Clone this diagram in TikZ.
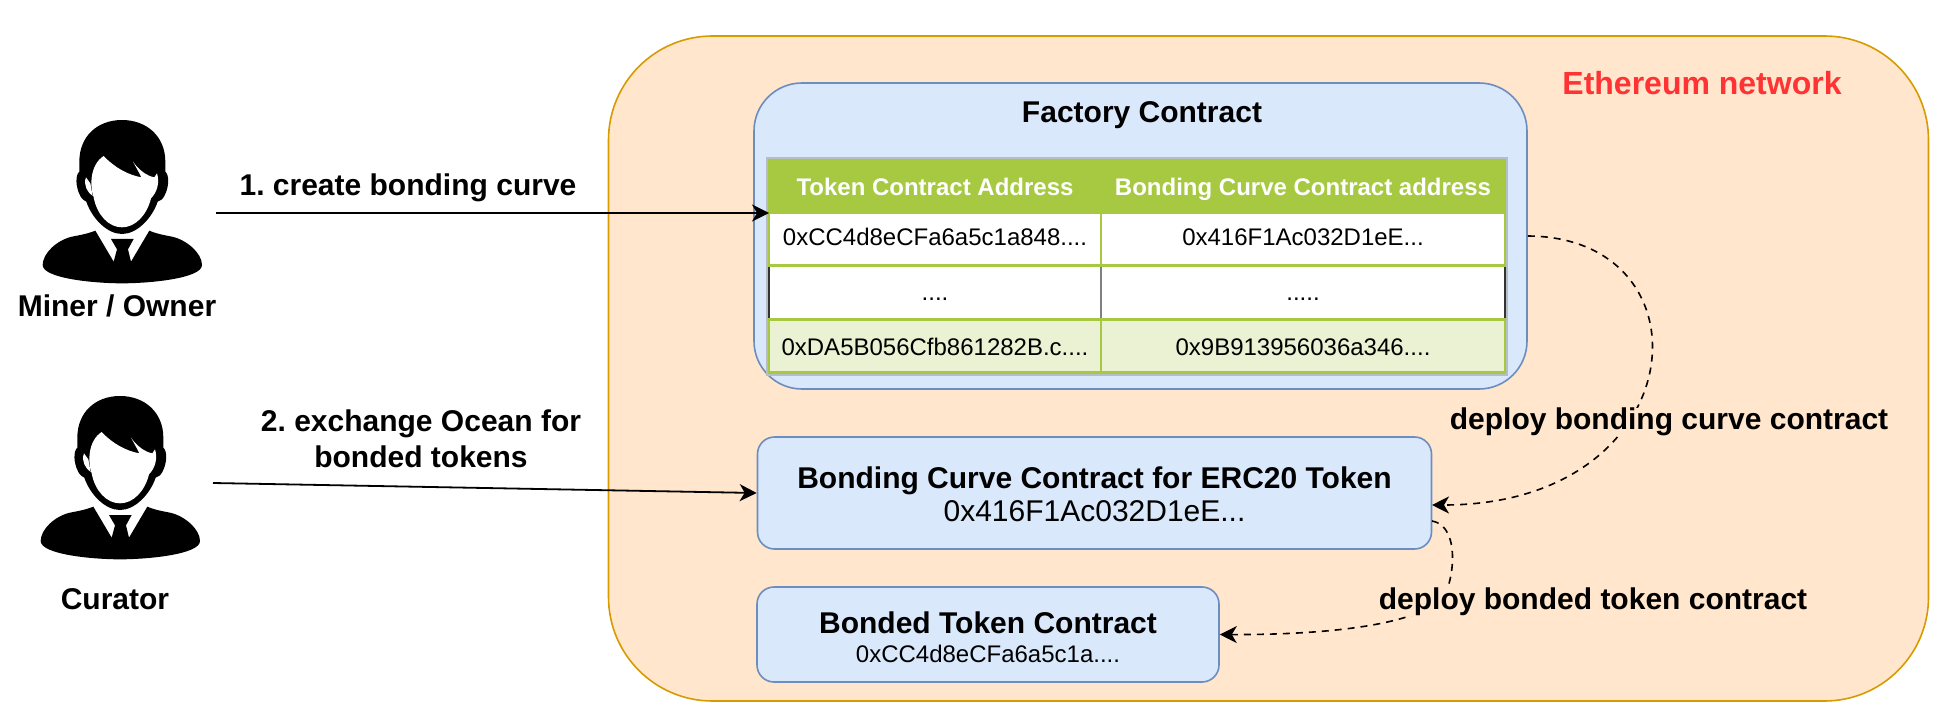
\documentclass[tikz,border=0pt]{standalone}
\usepackage{fontspec}
\setmainfont{Liberation Sans}
\frenchspacing
\usetikzlibrary{arrows.meta,positioning}
\definecolor{peach}{HTML}{FFE6CC}
\definecolor{peachline}{HTML}{D79B00}
\definecolor{boxblue}{HTML}{DAE8FC}
\definecolor{boxline}{HTML}{6C8EBF}
\definecolor{tablegreen}{HTML}{A7C942}
\definecolor{lightrow}{HTML}{EAF2D3}
\definecolor{rimgray}{HTML}{B4BEC4}
\definecolor{ethred}{HTML}{FF3333}
\tikzset{
  title/.style={font=\bfseries\fontsize{15}{18}\selectfont,text=black,align=center,inner sep=0pt},
  network/.style={rounded corners=52pt,draw=peachline,fill=peach,line width=0.8pt,minimum width=660pt,minimum height=332.5pt,inner sep=0pt},
  panel/.style={rounded corners=24pt,draw=boxline,fill=boxblue,line width=0.8pt,minimum width=386.5pt,minimum height=153pt,inner sep=0pt},
  box/.style={rounded corners=8.5pt,draw=boxline,fill=boxblue,line width=0.8pt,align=center,inner sep=0pt},
  rim/.style={draw=rimgray,line width=1pt,minimum width=370pt,minimum height=108.5pt,inner sep=0pt},
  cell/.style={minimum height=26.5pt,inner sep=0pt,outer sep=0pt,text height=8.6pt,text depth=2.5pt,font=\fontsize{12}{14}\selectfont},
  colone/.style={cell,minimum width=166pt},
  coltwo/.style={cell,minimum width=202pt},
  greencell/.style={draw=tablegreen,line width=1.1pt},
  headcell/.style={greencell,fill=tablegreen,text=white,text height=11pt,font=\bfseries\fontsize{12}{14}\selectfont},
  arr/.style={-{Stealth[length=8.5pt,width=8.5pt,inset=2.5pt]},draw=black,line width=0.9pt},
  arrdash/.style={-{Stealth[length=8.5pt,width=8.5pt,inset=2.5pt]},draw=black,line width=0.8pt,dash pattern=on 3.5pt off 3pt},
  person/.pic={
    \begin{scope}[scale=1/3,shift={(-365,-90)}]
    \fill[black] (365,90) .. controls (290,90) and (237,140) .. (237,215) -- (237,245)
      .. controls (225,255) and (225,290) .. (240,318) .. controls (245,328) and (252,332) .. (258,335)
      .. controls (275,385) and (320,432) .. (365,432) .. controls (410,432) and (455,385) .. (472,335)
      .. controls (480,332) and (487,328) .. (492,318) .. controls (507,290) and (507,255) .. (495,245) -- (495,215)
      .. controls (495,140) and (440,90) .. (365,90) -- cycle;
    \fill[white] (310,198) .. controls (345,235) and (385,255) .. (423,262) .. controls (415,245) and (405,228) .. (398,215)
      .. controls (415,240) and (440,258) .. (462,262) -- (470,250) .. controls (478,275) and (472,305) .. (452,325)
      .. controls (440,375) and (405,412) .. (365,412) .. controls (325,412) and (290,375) .. (280,322)
      .. controls (268,290) and (268,225) .. (310,198) -- cycle;
    \fill[white] (257,262) .. controls (248,285) and (262,308) .. (277,318) -- (270,280) -- cycle;
    \fill[black] (285,422) .. controls (260,432) and (235,436) .. (215,440) .. controls (170,450) and (127,490) .. (127,525)
      .. controls (127,565) and (280,580) .. (365,580) .. controls (450,580) and (605,565) .. (605,525)
      .. controls (605,490) and (560,450) .. (515,440) .. controls (495,436) and (470,432) .. (447,422)
      -- (392,515) -- (383,478) -- (400,447) -- (332,447) -- (350,478) -- (340,515) -- cycle;
    \end{scope}
  }
}
\begin{document}
\begin{tikzpicture}[x=0.5pt,y=-0.5pt]
\path[use as bounding box] (0,0) rectangle (1960,722);
\node[network] (ethereum) at (1268.5,368.5) {};
\node[title,text=ethred,font=\bfseries\fontsize{16}{18}\selectfont] (ethereumlabel) at (1702,83) {Ethereum network};
\node[panel] (factory) at (1140.5,236) {};
\node[title] (factorylabel) at (1142,115) {Factory Contract};
\node[rim] (tablerim) at (1137,266.5) {};
% table rows
\node[colone,fill=white,text height=11.6pt] (midone) at (935,291.5) {....};
\node[coltwo,fill=white,text height=11.6pt] (midtwo) at (1303,291.5) {.....};
\draw[black!80,line width=0.9pt] (midone.north west) -- (midone.south west);
\draw[black!50,line width=0.9pt] (midone.north east) -- (midone.south east);
\draw[black!80,line width=0.9pt] (midtwo.north east) -- (midtwo.south east);
\node[colone,headcell] (headone) at (935,186.5) {Token Contract Address};
\node[coltwo,headcell] (headtwo) at (1303,186.5) {Bonding Curve Contract address};
\node[colone,greencell,fill=white] (rowone) at (935,239) {0xCC4d8eCFa6a5c1a848....};
\node[coltwo,greencell,fill=white] (rowtwo) at (1303,239) {0x416F1Ac032D1eE...};
\node[colone,greencell,fill=lightrow,text height=12.3pt] (lastone) at (935,346) {0xDA5B056Cfb861282B.c....};
\node[coltwo,greencell,fill=lightrow,text height=12.3pt] (lasttwo) at (1303,346) {0x9B913956036a346....};
% contracts
\node[box,minimum width=337pt,minimum height=56pt] (bonding) at (1094.5,493) {\bfseries\fontsize{15}{17.5}\selectfont\rule{0pt}{12.2pt}Bonding Curve Contract for ERC20 Token\\[1.75pt]\fontsize{15}{17.5}\selectfont 0x416F1Ac032D1eE...};
\node[box,minimum width=231pt,minimum height=47.5pt] (bonded) at (988,634.5) {\bfseries\fontsize{15}{16.5}\selectfont\rule{0pt}{13.4pt}Bonded Token Contract\\[2.5pt]\fontsize{12}{16.5}\selectfont 0xCC4d8eCFa6a5c1a....};
% actors
\pic (miner) at (122,120) {person};
\pic (curator) at (120,396) {person};
\node[title] (minerlabel) at (117,306) {Miner / Owner};
\node[title] (curatorlabel) at (115,599) {Curator};
\coordinate (minerout) at (216,213);
\coordinate (curatorout) at (213,483);
\coordinate (bondingin) at (1432,505);
\coordinate (bondingout) at (1432,521);
\node[title] (createlabel) at (408,187.5) {1. create bonding curve};
\node[title] (exchangelabel) at (421,439) {2. exchange Ocean for\\bonded tokens};
\draw[arr] (minerout) -- (headone.south west);
\draw[arr] (curatorout) -- (bonding.west);
\draw[arrdash] (factory.east) .. controls (1715,237) and (1695,505) .. (bondingin);
\draw[arrdash] (bondingout) .. controls (1456,525) and (1456,565) .. (1447,590) .. controls (1435,622) and (1340,635) .. (bonded.east);
\node[title,fill=peach] (deploycurve) at (1669,422) {deploy bonding curve contract};
\node[title,fill=peach] (deploytoken) at (1593,602) {deploy bonded token contract};
\end{tikzpicture}
\end{document}
